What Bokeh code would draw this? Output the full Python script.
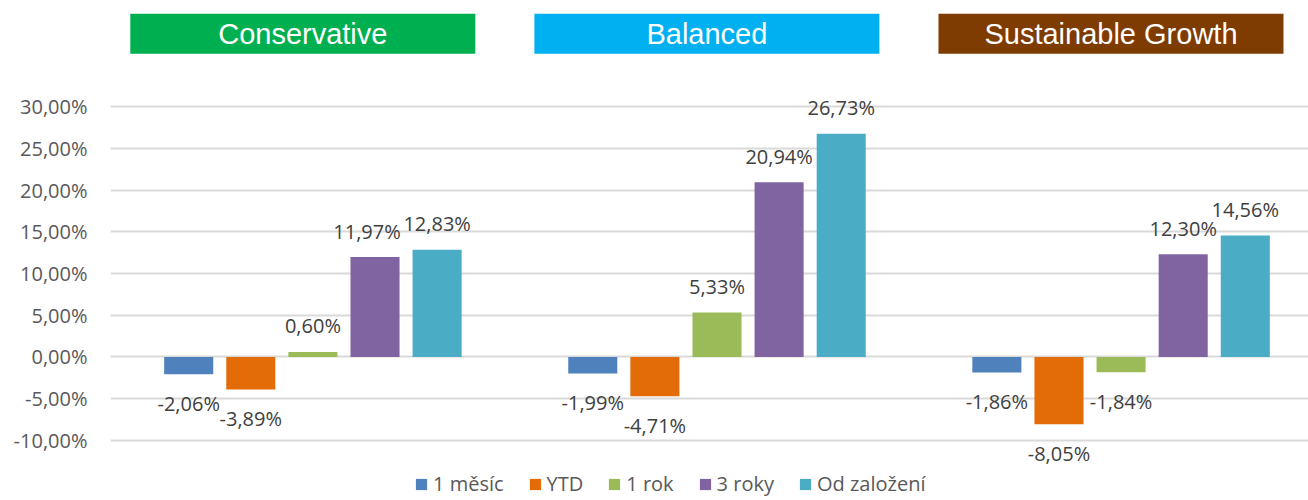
from bokeh.plotting import figure
from bokeh.models import ColumnDataSource, FixedTicker, CustomJSTickFormatter, Range1d
from bokeh.core.properties import value
from bokeh.embed import file_html
from bokeh.resources import INLINE

# ---- data ----
groups = ["Conservative", "Balanced", "Sustainable Growth"]
group_colors = ["#00B050", "#00B0F0", "#7F3C00"]
series = ["1 měsíc", "YTD", "1 rok", "3 roky", "Od založení"]
series_colors = ["#4F81BD", "#E36C09", "#9BBB59", "#8064A2", "#4BACC6"]
m1 = [-2.06, -1.99, -1.86]
ytd = [-3.89, -4.71, -8.05]
r1 = [0.60, 5.33, -1.84]
r3 = [11.97, 20.94, 12.30]
since = [12.83, 26.73, 14.56]
y_ticks = [-10, -5, 0, 5, 10, 15, 20, 25, 30]

values = [m1, ytd, r1, r3, since]

FONT = "Open Sans"
p = figure(width=1308, height=500, output_backend="svg", toolbar_location=None,
           x_range=Range1d(-0.5009, 2.4638), y_range=Range1d(-17.186, 42.695),
           min_border_left=110, min_border_right=0, min_border_top=0, min_border_bottom=0)
p.outline_line_color = None
p.background_fill_color = "white"
p.border_fill_color = "white"
p.xaxis.visible = False
p.xgrid.grid_line_color = None

p.yaxis.ticker = FixedTicker(ticks=y_ticks)
p.yaxis.formatter = CustomJSTickFormatter(code="return tick.toFixed(2).replace('.', ',') + '%';")
p.yaxis.axis_line_color = None
p.yaxis.major_tick_line_color = None
p.yaxis.minor_tick_line_color = None
p.yaxis.major_tick_out = 0
p.yaxis.major_tick_in = 0
p.yaxis.major_label_standoff = 23
p.yaxis.major_label_text_font = FONT
p.yaxis.major_label_text_font_size = "20px"
p.yaxis.major_label_text_color = "#595959"
p.ygrid.grid_line_color = "#D9D9D9"
p.ygrid.grid_line_width = 2

step = 0.1537
bar_w = 0.1214
for i, (name, col, vals) in enumerate(zip(series, series_colors, values)):
    xs = [g + (i - 2) * step for g in range(len(groups))]
    src = ColumnDataSource(dict(x=xs, top=vals))
    p.vbar(x="x", top="top", bottom=0, width=bar_w, source=src, fill_color=col,
           line_color=None, legend_label=name)
    labels = [f"{v:.2f}".replace(".", ",") + "%" for v in vals]
    yoff = [-26 if v >= 0 else 29 for v in vals]
    xoff = [0] * len(vals)
    if name == "3 roky":
        xoff[0] = -8
    lsrc = ColumnDataSource(dict(x=xs, y=vals, t=labels, yo=yoff, xo=xoff))
    p.text(x="x", y="y", text="t", source=lsrc, x_offset="xo", y_offset="yo",
           text_align="center", text_baseline="alphabetic",
           text_font=value(FONT), text_font_size="20px", text_color="#404040")

# group header boxes
hx = [g - 0.025 for g in range(len(groups))]
hsrc = ColumnDataSource(dict(x=hx, y=[38.7] * len(groups), t=groups, c=group_colors))
p.rect(x="x", y="y", width=345, height=40, width_units="screen", height_units="screen",
       fill_color="c", line_color=None, source=hsrc)
p.text(x="x", y="y", text="t", source=hsrc, text_align="center", text_baseline="middle",
       text_font=value("Liberation Sans"), text_font_size="29px", text_color="white")

leg = p.legend[0]
leg.orientation = "horizontal"
leg.location = (304, 3)
leg.padding = 0
leg.margin = 0
leg.spacing = 24
leg.glyph_width = 14
leg.glyph_height = 14
leg.label_height = 20
leg.label_standoff = 5
leg.label_text_font = FONT
leg.label_text_font_size = "20px"
leg.label_text_color = "#595959"
leg.border_line_color = None
leg.background_fill_alpha = 0

open("out.html", "w").write(file_html(p, INLINE))
